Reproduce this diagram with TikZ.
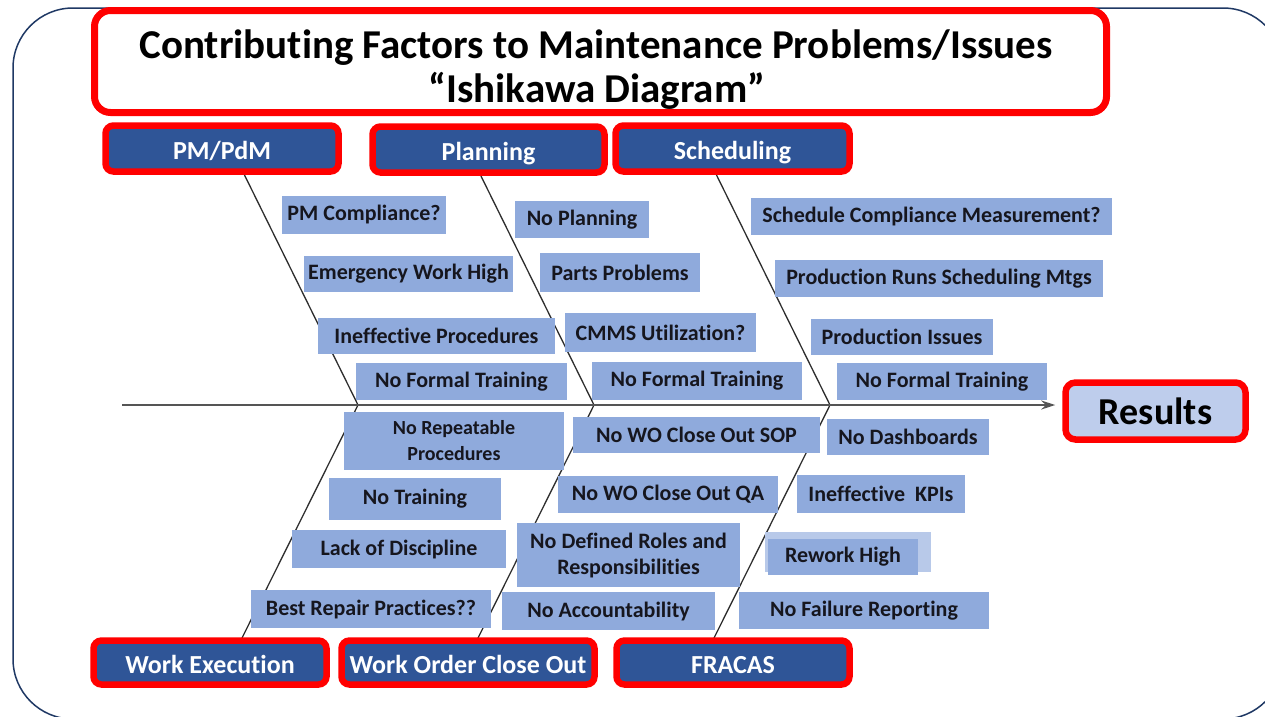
\documentclass[tikz,border=0pt]{standalone}
\usepackage{fontspec}
\setmainfont{Carlito}[Ligatures=NoCommon]
\usetikzlibrary{arrows.meta}
\definecolor{hdrblue}{RGB}{47,85,151}
\definecolor{causeblue}{RGB}{143,170,220}
\definecolor{causelight}{RGB}{184,201,233}
\definecolor{resfill}{RGB}{190,205,236}
\definecolor{framenavy}{RGB}{31,56,100}
\definecolor{redline}{RGB}{255,0,0}
\definecolor{causetext}{RGB}{22,22,30}
\definecolor{bonegray}{RGB}{45,45,45}
\definecolor{spinegray}{RGB}{85,85,85}
\newcommand\causebox[6]{\node[cause,minimum width=#4pt,minimum height=#5pt] (#1) at (#2,#3) {#6};}
\begin{document}
\begin{tikzpicture}[x=1pt,y=-1pt,
  hdr/.style={draw=redline, line width=6.5pt, rounded corners=8pt, fill=hdrblue,
    text=white, font=\fontsize{26}{30}\selectfont\bfseries,
    text height=24pt, text depth=2pt,
    minimum width=233pt, minimum height=46pt, inner sep=0pt},
  cause/.style={fill=causeblue, text=causetext, font=\fontsize{22}{26}\selectfont\bfseries,
    inner sep=0pt, align=center},
  bone/.style={draw=bonegray, line width=1.3pt},
  spine/.style={draw=spinegray, line width=1.6pt, -{Stealth[length=14pt,width=9pt]}, shorten >=7pt},
  frame/.style={draw=framenavy, line width=1.5pt, rounded corners=60pt}]
\useasboundingbox (0,0) rectangle (1265,716);
% outer frame
\draw[frame] (13,8) rectangle (1283,719);
% bones
\coordinate (j1) at (358,405);
\coordinate (j2) at (594,405);
\coordinate (j3) at (830,405);
\coordinate (t1) at (243,172);
\coordinate (t2) at (479,172);
\coordinate (t3) at (715,172);
\coordinate (b1) at (241,640);
\coordinate (b2) at (477,640);
\coordinate (b3) at (713,640);
\draw[bone] (t1) -- (j1) -- (b1);
\draw[bone] (t2) -- (j2) -- (b2);
\draw[bone] (t3) -- (j3) -- (b3);
% results and spine
\node[draw=redline, line width=6.5pt, rounded corners=10pt, fill=resfill,
  minimum width=180pt, minimum height=57pt, inner sep=0pt,
  font=\fontsize{38}{40}\selectfont\bfseries, text=black] (results) at (1155.5,411) {Results};
\coordinate (spinestart) at (122,405);
\draw[spine] (spinestart) -- (spinestart -| results.west);
% cause boxes: upper left
\causebox{pmc}{364}{215}{164}{38}{PM Compliance?}
\causebox{emw}{408.5}{274}{209}{36}{Emergency Work High}
\causebox{ineff}{436.5}{335.5}{237}{36}{Ineffective Procedures}
\causebox{nfta}{461.5}{381.5}{211}{37}{No Formal Training}
% upper middle
\causebox{nop}{582}{219.5}{134}{37}{No Planning}
\causebox{parts}{620}{272.5}{160}{39}{Parts Problems}
\causebox{cmms}{660.5}{332.5}{191}{39}{CMMS Utilization?}
\causebox{nftb}{697}{381}{210}{38}{No Formal Training}
% upper right
\causebox{scm}{931.5}{216.5}{361}{37}{Schedule Compliance Measurement?}
\causebox{prsm}{939}{278.5}{328}{37}{Production Runs Scheduling Mtgs}
\causebox{pi}{902}{337}{182}{36}{Production Issues}
\causebox{nftc}{942}{381.5}{210}{37}{No Formal Training}
% lower left
\causebox{nrp}{454}{441}{220}{58}{\fontsize{20}{24}\selectfont No Repeatable\\\fontsize{20}{24}\selectfont Procedures}
\causebox{ntr}{415}{499}{172}{42}{No Training}
\causebox{lod}{399}{549}{214}{38}{Lack of Discipline}
\causebox{brp}{371}{609}{240}{38}{Best Repair Practices??}
% lower middle
\causebox{sop}{696.5}{435}{247}{36}{No WO Close Out SOP}
\causebox{qa}{668}{494.5}{220}{37}{No WO Close Out QA}
\causebox{roles}{628.5}{555}{223}{64}{No Defined Roles and\\Responsibilities}
\causebox{acc}{608.5}{611}{213}{38}{No Accountability}
% lower right
\causebox{dash}{908}{437}{162}{36}{No Dashboards}
\causebox{kpi}{881}{494}{168}{38}{Ineffective\ \ KPIs}
\fill[causelight] (765,532) rectangle (931,572);
\causebox{rework}{843}{557}{150}{36}{Rework High}
\causebox{nfr}{864}{610.5}{250}{37}{No Failure Reporting}
% headers
\node[hdr] (pmpdm) at (222,148.5) {PM/PdM};
\node[hdr, minimum width=232pt] (planning) at (488.5,149.5) {Planning};
\node[hdr, minimum width=234pt] (scheduling) at (732.5,148.5) {Scheduling};
\node[hdr, minimum height=44pt] (workexec) at (210,662.5) {Work Execution};
\node[hdr, minimum width=253pt, minimum height=44pt] (woco) at (468,662.5) {Work Order Close Out};
\node[hdr, minimum height=44pt] (fracas) at (733,662.5) {FRACAS};
% title
\node[draw=redline, line width=7pt, rounded corners=16pt, fill=white,
  minimum width=1012pt, minimum height=102pt] (titlebox) at (600.5,61.5) {};
\node[anchor=base, font=\fontsize{41}{44}\selectfont\bfseries] (title1) at (596,58)
  {Contributing Factors to Maintenance Problems/Issues};
\node[anchor=base, font=\fontsize{41}{44}\selectfont\bfseries] (title2) at (597,102)
  {“Ishikawa Diagram”};
\end{tikzpicture}
\end{document}
